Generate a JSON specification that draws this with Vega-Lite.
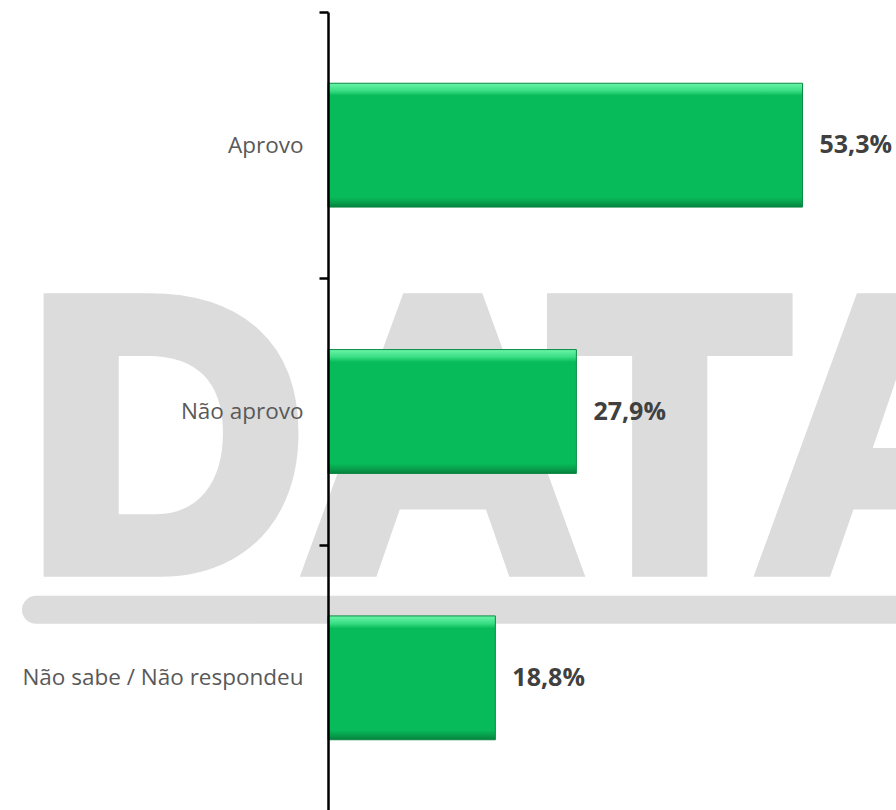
{
  "$schema": "https://vega.github.io/schema/vega-lite/v6.json",
  "width": 568,
  "height": 799,
  "autosize": {"type": "none"},
  "padding": {"left": 328, "top": 12, "right": 0, "bottom": 0},
  "background": "white",
  "config": {"view": {"stroke": null}},
  "data": {
    "values": [
      {"kind": "band", "cat": "Não sabe / Não respondeu", "value": -32.8, "end": 64},
      {"kind": "word", "cat": "Não sabe / Não respondeu", "value": -33.7, "label": "DATA"},
      {"kind": "bar", "cat": "Aprovo", "value": 53.3, "label": "53,3%"},
      {"kind": "bar", "cat": "Não aprovo", "value": 27.9, "label": "27,9%"},
      {"kind": "bar", "cat": "Não sabe / Não respondeu", "value": 18.8, "label": "18,8%"}
    ]
  },
  "encoding": {
    "y": {
      "field": "cat", "type": "nominal",
      "scale": {"domain": ["Aprovo", "Não aprovo", "Não sabe / Não respondeu"], "paddingInner": 0, "paddingOuter": 0},
      "axis": {
        "title": null,
        "zindex": 1,
        "domainColor": "#000000",
        "domainWidth": 2.5,
        "tickColor": "#000000",
        "tickWidth": 2.5,
        "tickSize": 9,
        "tickBand": "extent",
        "labelFont": "Open Sans",
        "labelFontSize": 22.5,
        "labelColor": "#595959",
        "labelPadding": 16,
        "labelLimit": 400
      }
    },
    "x": {
      "field": "value", "type": "quantitative",
      "scale": {"domain": [0, 63.8], "nice": false, "zero": true},
      "axis": null
    }
  },
  "layer": [
    {
      "transform": [{"filter": "datum.kind === 'band'"}],
      "mark": {"type": "rule", "color": "#dcdcdc", "strokeWidth": 28, "strokeCap": "round", "yOffset": -68},
      "encoding": {
        "x2": {"field": "end"}
      }
    },
    {
      "transform": [{"filter": "datum.kind === 'word'"}],
      "mark": {"type": "text", "font": "Liberation Sans", "fontWeight": "bold", "fontSize": 383, "fill": "#dcdcdc", "stroke": "#dcdcdc", "strokeWidth": 20, "strokeJoin": "miter", "strokeMiterLimit": 2, "align": "left", "baseline": "alphabetic", "yOffset": -111},
      "encoding": {
        "text": {"field": "label"}
      }
    },
    {
      "transform": [{"filter": "datum.kind === 'bar'"}],
      "mark": {
        "type": "bar",
        "height": {"band": 0.465},
        "stroke": "#0a8a44",
        "strokeWidth": 1,
        "fill": {
          "gradient": "linear", "x1": 0, "y1": 0, "x2": 0, "y2": 1,
          "stops": [
            {"offset": 0, "color": "#6af5aa"},
            {"offset": 0.06, "color": "#3ade84"},
            {"offset": 0.1, "color": "#08bb5a"},
            {"offset": 0.92, "color": "#08bb5a"},
            {"offset": 0.97, "color": "#079a4a"},
            {"offset": 1, "color": "#067f3d"}
          ]
        }
      }
    },
    {
      "transform": [{"filter": "datum.kind === 'bar'"}],
      "mark": {"type": "text", "align": "left", "baseline": "middle", "dx": 17, "font": "Open Sans", "fontWeight": "bold", "fontSize": 25, "color": "#404040"},
      "encoding": {
        "text": {"field": "label"}
      }
    }
  ]
}
